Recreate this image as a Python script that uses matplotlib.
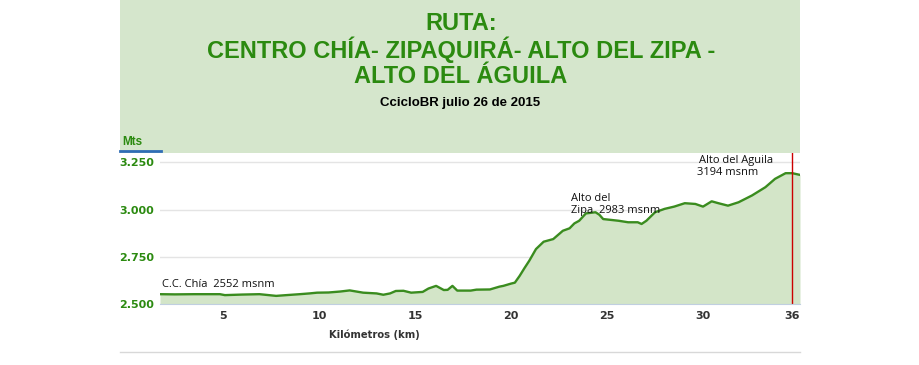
from matplotlib import pyplot as plt
from matplotlib.patches import Rectangle
from matplotlib.lines import Line2D

# elevation profile (km, metres above sea level)
km = [1.72, 2.5, 3.5, 4.84, 5.1, 6.0, 6.9, 7.77, 8.3, 9.0, 9.5, 9.9, 10.5, 11.1, 11.6,
      12.3, 13.0, 13.35, 13.7, 14.0, 14.4, 14.8, 15.4, 15.7, 16.1, 16.5, 16.7, 16.95,
      17.2, 17.9, 18.2, 18.9, 19.4, 19.6, 20.0, 20.2, 20.45, 20.7, 20.95, 21.3, 21.7,
      22.2, 22.7, 23.05, 23.3, 23.55, 23.9, 24.4, 24.6, 24.8, 25.25, 25.6, 26.1, 26.6,
      26.8, 27.05, 27.5, 28.0, 28.5, 29.05, 29.6, 30.0, 30.45, 30.8, 31.3, 31.85, 32.55,
      33.25, 33.75, 34.3, 34.65, 35.05]
elev = [2552, 2551, 2552, 2552, 2547, 2550, 2552, 2543, 2547, 2552, 2556, 2560, 2561,
        2566, 2572, 2560, 2556, 2549, 2556, 2569, 2570, 2560, 2564, 2582, 2596, 2574,
        2575, 2596, 2571, 2571, 2576, 2577, 2592, 2596, 2608, 2613, 2649, 2690, 2729,
        2791, 2830, 2844, 2888, 2901, 2927, 2941, 2980, 2986, 2973, 2950, 2945, 2941,
        2933, 2933, 2924, 2941, 2986, 3004, 3016, 3034, 3030, 3016, 3044, 3034, 3021,
        3039, 3075, 3119, 3163, 3193, 3193, 3184]

xticks = [5, 10, 15, 20, 25, 30, 34.65]
xtick_labels = ['5', '10', '15', '20', '25', '30', '36']
yticks = [2500, 2750, 3000, 3250]
ytick_labels = ['2.500', '2.750', '3.000', '3.250']
cursor_km = 34.65

title_lines = 'RUTA:\nCENTRO CHÍA- ZIPAQUIRÁ- ALTO DEL ZIPA -\nALTO DEL ÁGUILA'
subtitle = 'CcicloBR julio 26 de 2015'

green = '#2b8a10'
line_green = '#3a8c1f'
fill_green = '#d3e5c8'
bg_green = '#d5e6cc'

fig = plt.figure(figsize=(9.2, 3.65), dpi=100)

# header box
fig.patches.append(Rectangle((120/920, 1 - 153/365), 680/920, 153/365,
                             transform=fig.transFigure, facecolor=bg_green,
                             edgecolor='none', zorder=0))
fig.lines.append(Line2D([120/920, 161/920], [1 - 150.5/365] * 2,
                        transform=fig.transFigure, color='#2f6db5', lw=2))
fig.lines.append(Line2D([120/920, 800/920], [1 - 352/365] * 2,
                        transform=fig.transFigure, color='#d8d8d8', lw=1))

fig.text(461/920, 1 - 50/365, title_lines, ha='center', va='center', color=green,
         fontsize=17, fontweight='bold', family='Liberation Sans', linespacing=1.1)
fig.text(460/920, 1 - 103/365, subtitle, ha='center', va='center', color='black',
         fontsize=9.5, fontweight='bold', family='Liberation Sans')
fig.text(122/920, 1 - 142/365, 'Mts', ha='left', va='center', color=green,
         fontsize=8.5, fontweight='bold', family='Liberation Sans')
fig.text(374/920, 1 - 335/365, 'Kilómetros (km)', ha='center', va='center',
         color='#333333', fontsize=7.2, fontweight='bold')

ax = fig.add_axes([160/920, 61/365, 640/920, 151/365])
ax.fill_between(km, elev, 2500, color=fill_green, lw=0)
ax.plot(km, elev, color=line_green, lw=1.7)
ax.axvline(cursor_km, color='#cc0000', lw=1)

ax.set_xlim(1.72, 35.05)
ax.set_ylim(2500, 3300)
ax.set_yticks(yticks)
ax.set_yticklabels(ytick_labels)
ax.set_xticks(xticks)
ax.set_xticklabels(xtick_labels)
ax.grid(axis='y', color='#e4e4e4', lw=1)
ax.set_axisbelow(True)
for s in ['top', 'right', 'left']:
    ax.spines[s].set_visible(False)
ax.spines['bottom'].set_color('#c0cfe0')
ax.tick_params(axis='y', length=0, pad=4, labelsize=8, labelcolor=green)
ax.tick_params(axis='x', length=0, pad=5, labelsize=8, labelcolor='#333333')
for t in ax.get_yticklabels() + ax.get_xticklabels():
    t.set_fontweight('bold')

ann = dict(fontsize=8, family='Open Sans', color='#111111', ha='left', va='center')
ax.text(1.8, 2605, 'C.C. Chía  2552 msnm', **ann)
ax.text(23.1, 3060, 'Alto del', **ann)
ax.text(23.1, 2995, 'Zipa  2983 msnm', **ann)
ax.text(29.8, 3262, 'Alto del Aguila', **ann)
ax.text(29.7, 3197, '3194 msnm', **ann)

plt.savefig('out.png', dpi=100)
